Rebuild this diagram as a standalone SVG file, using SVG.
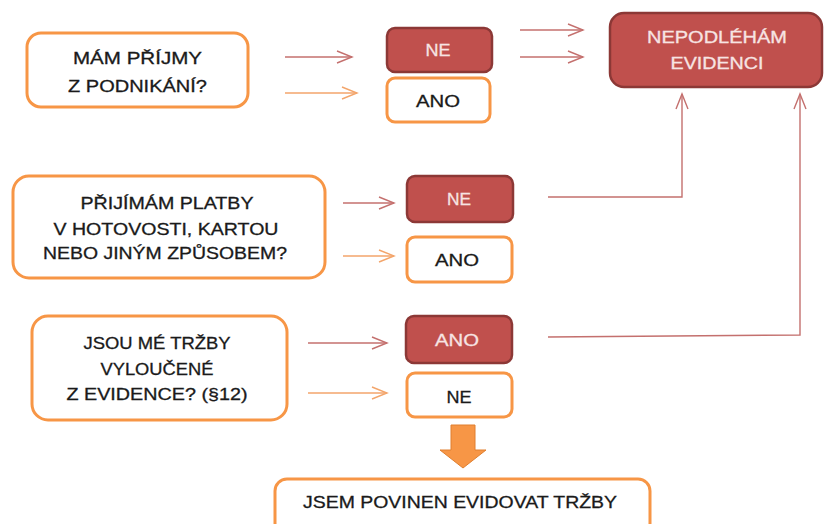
<svg xmlns="http://www.w3.org/2000/svg" width="825" height="524" viewBox="0 0 825 524">
<defs>
<style>
.q{fill:#fff;stroke:#F79646;stroke-width:3}
.r{fill:#C0504D;stroke:#8C3836;stroke-width:2.5}
.w{fill:#fff;stroke:#F79646;stroke-width:3}
text{font-family:"Liberation Sans",Arial,sans-serif;font-size:17px;text-anchor:middle;fill:#1a1a1a;stroke:#1a1a1a;stroke-width:0.3}
text.wt{fill:#F7E4E3;stroke:#F7E4E3}
.cr{stroke:#C4706E;stroke-width:1.4;fill:none}
.co{stroke:#F3A56B;stroke-width:1.4;fill:none}
</style>
<marker id="hr" markerUnits="userSpaceOnUse" markerWidth="18" markerHeight="16" viewBox="-1 -8 18 16" refX="15" refY="0" orient="auto">
<path d="M0,-6 L15,0 L0,6" fill="none" stroke="#C4706E" stroke-width="1.4"/>
</marker>
<marker id="ho" markerUnits="userSpaceOnUse" markerWidth="18" markerHeight="16" viewBox="-1 -8 18 16" refX="15" refY="0" orient="auto">
<path d="M0,-6 L15,0 L0,6" fill="none" stroke="#F3A56B" stroke-width="1.4"/>
</marker>
</defs>
<rect width="825" height="524" fill="#fff"/>

<g id="connectors">
<line class="cr" x1="285" y1="57" x2="352" y2="57" marker-end="url(#hr)"/>
<line class="co" x1="285" y1="93" x2="357" y2="93" marker-end="url(#ho)"/>
<line class="cr" x1="520" y1="30" x2="583" y2="30" marker-end="url(#hr)"/>
<line class="cr" x1="520" y1="57" x2="583" y2="57" marker-end="url(#hr)"/>
<line class="cr" x1="343" y1="203" x2="394" y2="203" marker-end="url(#hr)"/>
<line class="co" x1="343" y1="256" x2="394" y2="256" marker-end="url(#ho)"/>
<line class="cr" x1="308" y1="343" x2="387" y2="343" marker-end="url(#hr)"/>
<line class="co" x1="308" y1="393" x2="387" y2="393" marker-end="url(#ho)"/>
<polyline class="cr" points="548,197 682,197 682,94" marker-end="url(#hr)"/>
<polyline class="cr" points="548,337 800,335 800,94" marker-end="url(#hr)"/>
<polygon points="451,425 475,425 475,450 486,450 463,468 440,450 451,450" fill="#F79646" stroke="#E07F2E" stroke-width="1"/>
</g>

<g id="q1">
<rect class="q" x="27" y="33" width="221" height="74" rx="14"/>
<text x="137.5" y="64" textLength="129" lengthAdjust="spacingAndGlyphs">MÁM PŘÍJMY</text>
<text x="137.5" y="92" textLength="139" lengthAdjust="spacingAndGlyphs">Z PODNIKÁNÍ?</text>
</g>
<g id="q1-ne">
<rect class="r" x="387" y="28" width="105" height="44" rx="8"/>
<text class="wt" x="438" y="56" textLength="25" lengthAdjust="spacingAndGlyphs">NE</text>
</g>
<g id="q1-ano">
<rect class="w" x="387" y="78" width="103" height="44" rx="8"/>
<text x="438" y="107" textLength="44" lengthAdjust="spacingAndGlyphs">ANO</text>
</g>
<g id="nepodleham">
<rect class="r" x="610" y="13" width="212" height="74" rx="14"/>
<text class="wt" x="717" y="43" textLength="140" lengthAdjust="spacingAndGlyphs">NEPODLÉHÁM</text>
<text class="wt" x="717" y="69" textLength="93" lengthAdjust="spacingAndGlyphs">EVIDENCI</text>
</g>

<g id="q2">
<rect class="q" x="13" y="176" width="312" height="102" rx="16"/>
<text x="167" y="209" textLength="173" lengthAdjust="spacingAndGlyphs">PŘIJÍMÁM PLATBY</text>
<text x="166" y="235" textLength="225" lengthAdjust="spacingAndGlyphs">V HOTOVOSTI, KARTOU</text>
<text x="165" y="259" textLength="244" lengthAdjust="spacingAndGlyphs">NEBO JINÝM ZPŮSOBEM?</text>
</g>
<g id="q2-ne">
<rect class="r" x="407" y="176" width="106" height="46" rx="8"/>
<text class="wt" x="459" y="205" textLength="24" lengthAdjust="spacingAndGlyphs">NE</text>
</g>
<g id="q2-ano">
<rect class="w" x="407" y="237" width="105" height="45" rx="8"/>
<text x="457" y="266" textLength="44" lengthAdjust="spacingAndGlyphs">ANO</text>
</g>

<g id="q3">
<rect class="q" x="32" y="316" width="255" height="104" rx="16"/>
<text x="157" y="349" textLength="147" lengthAdjust="spacingAndGlyphs">JSOU MÉ TRŽBY</text>
<text x="157" y="375" textLength="113" lengthAdjust="spacingAndGlyphs">VYLOUČENÉ</text>
<text x="157" y="400" textLength="181" lengthAdjust="spacingAndGlyphs">Z EVIDENCE? (§12)</text>
</g>
<g id="q3-ano">
<rect class="r" x="406" y="316" width="106" height="47" rx="8"/>
<text class="wt" x="457" y="346" textLength="44" lengthAdjust="spacingAndGlyphs">ANO</text>
</g>
<g id="q3-ne">
<rect class="w" x="407" y="373" width="105" height="44" rx="8"/>
<text x="459" y="403" textLength="25" lengthAdjust="spacingAndGlyphs">NE</text>
</g>

<g id="result">
<rect class="w" x="275" y="479" width="375" height="56" rx="12"/>
<text x="460" y="508" textLength="314" lengthAdjust="spacingAndGlyphs">JSEM POVINEN EVIDOVAT TRŽBY</text>
</g>
</svg>
